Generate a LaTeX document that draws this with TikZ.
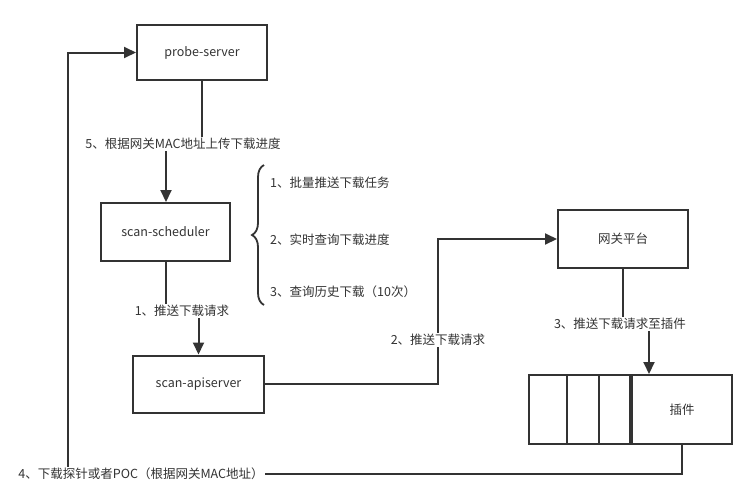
\documentclass[tikz,border=0pt]{standalone}
\usepackage{fontspec}
\setmainfont{Noto Sans CJK SC}
\usetikzlibrary{arrows.meta,decorations.pathreplacing}
\definecolor{ink}{HTML}{333333}
\begin{document}
\begin{tikzpicture}[x=1pt,y=-1pt,
  box/.style={draw=ink,line width=2pt,inner sep=0pt,text=ink,font=\fontsize{12.5}{14}\selectfont},
  lbl/.style={fill=white,inner sep=1.5pt,text=ink,font=\fontsize{12.5}{14}\selectfont},
  txt/.style={inner sep=0pt,text=ink,anchor=west,font=\fontsize{12.5}{14}\selectfont},
  conn/.style={draw=ink,line width=2pt},
  arr/.style={conn,-{Triangle[length=12pt,width=11pt]}}]
\useasboundingbox[fill=white] (0,0) rectangle (756,499);
% boxes
\node[box,minimum width=130pt,minimum height=55pt] (probe) at (202,52.5) {probe-server};
\node[box,minimum width=129pt,minimum height=58pt] (sched) at (165.5,232) {scan-scheduler};
\node[box,minimum width=131pt,minimum height=57pt] (api) at (198.5,384) {scan-apiserver};
\node[box,minimum width=130pt,minimum height=58pt] (gw) at (623,239) {网关平台};
\node[box,minimum width=100pt,minimum height=69pt] (plug) at (682,409.5) {插件};
\node[box,minimum width=101pt,minimum height=69pt,anchor=east] (queue) at (plug.west) {};
\draw[conn] (567,375) -- (567,444) (599,375) -- (599,444);
% connectors
\coordinate (c5a) at (202,144);
\coordinate (c5b) at (166,144);
\draw[arr] (probe.south) -- (c5a) -- (c5b) -- (sched.north -| c5b);
\node[lbl] (l5) at (183,144) {5、根据网关MAC地址上传下载进度};

\coordinate (c1a) at (166,311);
\coordinate (c1b) at (198.5,311);
\draw[arr] (sched.south -| c1a) -- (c1a) -- (c1b) -- (api.north);
\node[lbl] (l1) at (182,311) {1、推送下载请求};

\coordinate (c2a) at (437.5,384);
\coordinate (c2b) at (437.5,239);
\draw[arr] (api.east) -- (c2a) -- (c2b) -- (gw.west);
\node[lbl] (l2) at (438,340) {2、推送下载请求};

\coordinate (c3a) at (622.5,324);
\coordinate (c3b) at (649,324);
\draw[arr] (gw.south -| c3a) -- (c3a) -- (c3b) -- (plug.north -| c3b);
\node[lbl] (l3) at (620,324) {3、推送下载请求至插件};

\coordinate (c4a) at (682,474);
\coordinate (c4b) at (68,474);
\coordinate (c4c) at (68,52.5);
\draw[arr] (plug.south) -- (c4a) -- (c4b) -- (c4c) -- (probe.west);
\node[lbl] (l4) at (141,474) {4、下载探针或者POC（根据网关MAC地址）};

% brace
\coordinate (b1) at (264,165);
\coordinate (b2) at (264,305);
\draw[ink,line width=1.8pt,decorate,decoration={brace,amplitude=12pt}] (b2) -- (b1);
\node[txt] (t1) at (270,183) {1、批量推送下载任务};
\node[txt] (t2) at (270,240) {2、实时查询下载进度};
\node[txt] (t3) at (270,292) {3、查询历史下载（10次）};
\end{tikzpicture}
\end{document}
